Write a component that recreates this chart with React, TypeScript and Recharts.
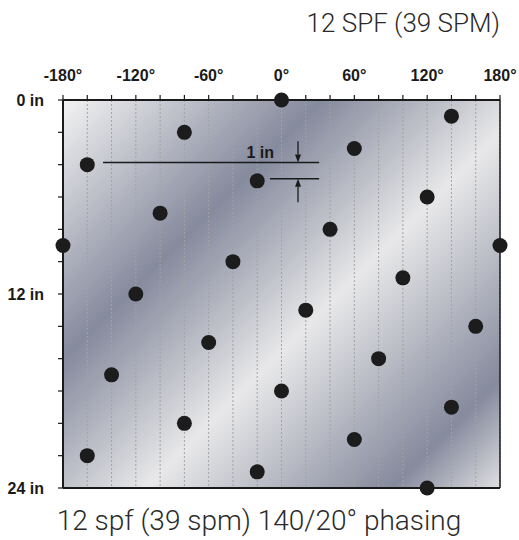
import React from 'react';
import {
  ScatterChart,
  Scatter,
  XAxis,
  YAxis,
  CartesianGrid,
  ReferenceLine,
  ReferenceDot,
} from 'recharts';

// Hole phasing (degrees around the casing) and depth (inches down the pipe)
const phaseDeg = [0, 140, -80, 60, -160, -20, 120, -100, 40, -180, 180, -40, 100, -120, 20, 160, -60, 80, -140, 0, 140, -80, 60, -160, -20, 120];
const depthIn = [0, 1, 2, 3, 4, 5, 6, 7, 8, 9, 9, 10, 11, 12, 13, 14, 15, 16, 17, 18, 19, 20, 21, 22, 23, 24];

const xTicks = [-180, -160, -140, -120, -100, -80, -60, -40, -20, 0, 20, 40, 60, 80, 100, 120, 140, 160, 180];
const xLabelTicks = [-180, -120, -60, 0, 60, 120, 180];
const yTicks = [0, 2, 4, 6, 8, 10, 12, 14, 16, 18, 20, 22, 24];
const yLabelTicks = [0, 12, 24];

const topTitle = '12 SPF (39 SPM)';
const bottomTitle = '12 spf (39 spm) 140/20° phasing';

// "1 in" spacing annotation (data coordinates)
const annLongLine = [{ x: -147, y: 3.87 }, { x: 31, y: 3.87 }];
const annShortLine = [{ x: -9.5, y: 4.87 }, { x: 31, y: 4.87 }];
const annArrowDown = [{ x: 13.6, y: 2.55 }, { x: 13.6, y: 3.87 }];
const annArrowUp = [{ x: 13.6, y: 6.33 }, { x: 13.6, y: 4.87 }];
const annLabel = { x: -17.5, y: 3.6, text: '1 in' };

const data = phaseDeg.map((p, i) => ({ x: p, y: depthIn[i] }));

const FONT = '"Liberation Sans", Arial, sans-serif';
const TITLE_FONT = 'Roboto, "Liberation Sans", Arial, sans-serif';

const XTick = (props: any) => {
  const { x, y, payload } = props;
  if (!xLabelTicks.includes(payload.value)) return <g />;
  return (
    <text x={x} y={y} dy={-12} textAnchor="middle" fontFamily={FONT} fontWeight="bold" fontSize={16} fill="#1a1a1a">
      {`${payload.value}°`}
    </text>
  );
};

const YTick = (props: any) => {
  const { x, y, payload } = props;
  if (!yLabelTicks.includes(payload.value)) return <g />;
  return (
    <text x={x} y={y} dx={-12} dy={6} textAnchor="end" fontFamily={FONT} fontWeight="bold" fontSize={16} fill="#1a1a1a">
      {`${payload.value} in`}
    </text>
  );
};

const Arrow = (p: any) => {
  const { x1, y1, x2, y2 } = p;
  const dir = y2 > y1 ? 1 : -1;
  const len = 8;
  const hw = 3;
  return (
    <g>
      <line x1={x1} y1={y1} x2={x2} y2={y2 - dir * len} stroke="#1a1a1a" strokeWidth={1.3} />
      <polygon points={`${x2},${y2} ${x2 - hw},${y2 - dir * len} ${x2 + hw},${y2 - dir * len}`} fill="#1a1a1a" />
    </g>
  );
};

const Dot = (p: any) => <circle cx={p.cx} cy={p.cy} r={7.5} fill="#1c1c1c" />;

export default function App() {
  return (
    <div style={{ position: 'absolute', left: 0, top: 0, width: 519, height: 540, overflow: 'hidden', background: '#fff' }}>
      <ScatterChart width={519} height={540} margin={{ top: 70, left: 13, right: 19, bottom: 52 }}>
        <defs>
          <linearGradient id="metal" gradientUnits="userSpaceOnUse" x1="64" y1="100" x2="476" y2="512">
            <stop offset="0" stopColor="#f3f3f3" />
            <stop offset="0.313" stopColor="#858a9d" />
            <stop offset="0.57" stopColor="#e8e8e9" />
            <stop offset="0.868" stopColor="#858a9d" />
            <stop offset="1" stopColor="#dfdfe1" />
          </linearGradient>
        </defs>
        <CartesianGrid
          horizontal={false}
          vertical
          fill="url(#metal)"
          fillOpacity={1}
          stroke="#a3a3a3"
          strokeDasharray="2 2"
        />
        <XAxis
          type="number"
          dataKey="x"
          orientation="top"
          domain={[-180, 180]}
          ticks={xTicks}
          interval={0}
          height={30}
          tickSize={5}
          axisLine={{ stroke: '#1a1a1a', strokeWidth: 2 }}
          tickLine={{ stroke: '#1a1a1a', strokeWidth: 1.2 }}
          tick={<XTick />}
        />
        <YAxis
          type="number"
          dataKey="y"
          reversed
          domain={[0, 24]}
          ticks={yTicks}
          interval={0}
          width={50}
          tickSize={5}
          axisLine={{ stroke: '#1a1a1a', strokeWidth: 2 }}
          tickLine={{ stroke: '#1a1a1a', strokeWidth: 1.2 }}
          tick={<YTick />}
        />
        <ReferenceLine y={24} stroke="#1a1a1a" strokeWidth={2} ifOverflow="visible" />
        <ReferenceLine x={180} stroke="#1a1a1a" strokeWidth={1.5} ifOverflow="visible" />
        <ReferenceLine segment={annLongLine} stroke="#1a1a1a" strokeWidth={1.5} ifOverflow="visible" />
        <ReferenceLine segment={annShortLine} stroke="#1a1a1a" strokeWidth={1.5} ifOverflow="visible" />
        <ReferenceLine segment={annArrowDown} ifOverflow="visible" shape={Arrow} />
        <ReferenceLine segment={annArrowUp} ifOverflow="visible" shape={Arrow} />
        <ReferenceDot
          x={annLabel.x}
          y={annLabel.y}
          ifOverflow="visible"
          shape={(p: any) => (
            <text x={p.cx} y={p.cy} textAnchor="middle" fontFamily={FONT} fontWeight="bold" fontSize={16} fill="#1a1a1a">
              {annLabel.text}
            </text>
          )}
        />
        <Scatter data={data} isAnimationActive={false} shape={Dot} />
        <text x={500} y={32} textAnchor="end" fontFamily={TITLE_FONT} fontWeight={300} fontSize={26} fill="#2a2a2a">
          {topTitle}
        </text>
        <text x={259} y={530} textAnchor="middle" fontFamily={TITLE_FONT} fontWeight={300} fontSize={28} fill="#2a2a2a">
          {bottomTitle}
        </text>
      </ScatterChart>
    </div>
  );
}
